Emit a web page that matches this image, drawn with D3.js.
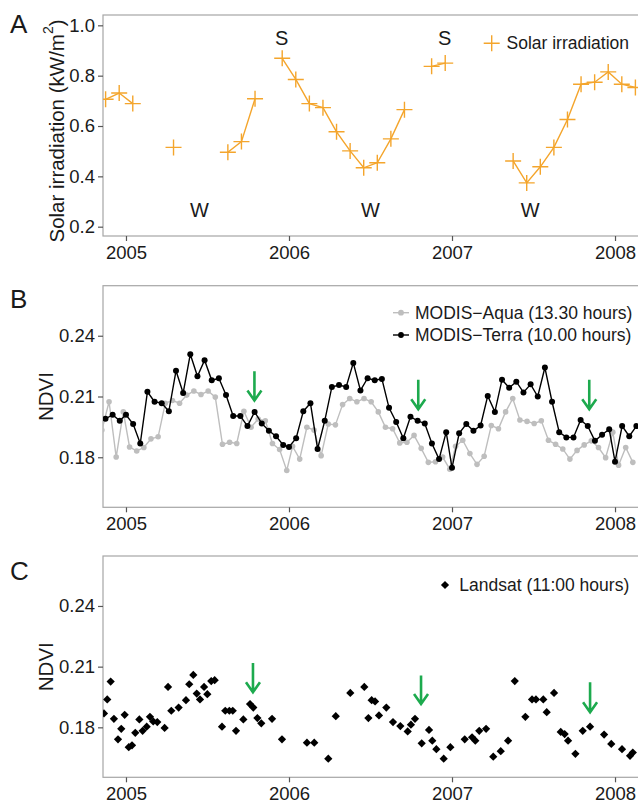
<!DOCTYPE html>
<html>
<head>
<meta charset="utf-8">
<script src="https://cdn.jsdelivr.net/npm/d3@7/dist/d3.min.js"></script>
<style>
  body { margin: 0; background: #fff; }
  svg { font-family: "Liberation Sans", Arial, sans-serif; }
</style>
</head>
<body>
<svg id="chart" width="638" height="803"></svg>
<script>
// ---------- data ----------
const years = [2005, 2006, 2007, 2008];

// monthly solar irradiation (kW/m2), Nov 2004 .. Feb 2008, null = missing month
const solarFirstMonth = [2004, 11];
const solarValues = [
  0.706, 0.731,
  0.689, null, null, 0.515, null, null, null, 0.496, 0.538, 0.708, null, 0.869,
  0.785, 0.689, 0.673, 0.577, 0.501, 0.434, 0.454, 0.549, 0.665, null, 0.837, 0.850,
  null, null, null, null, 0.461, 0.374, 0.438, 0.515, 0.626, 0.766, 0.774, 0.815,
  0.766, 0.753
];
const seasonMarks = [
  { label: 'W', t: 2005.45, v: 0.266 },
  { label: 'S', t: 2005.955, v: 0.948 },
  { label: 'W', t: 2006.50, v: 0.266 },
  { label: 'S', t: 2006.955, v: 0.948 },
  { label: 'W', t: 2007.48, v: 0.266 }
];

// MODIS 16-day composites: first composite [year, day of year]
const terraFirst = [2004, 321];
const aquaFirst = [2004, 313];
const terraNdvi = [
  0.1990, 0.2010, 0.1980,
  0.2010, 0.1964, 0.1868, 0.2123, 0.2074, 0.2067, 0.2027, 0.2227, 0.2117, 0.2309, 0.2200, 0.2279,
  0.2180, 0.2190, 0.2107, 0.2004, 0.2004, 0.1954, 0.2024, 0.1967, 0.1931, 0.1904, 0.1861,
  0.1851, 0.1894, 0.2027, 0.2067, 0.1841, 0.1980, 0.2147, 0.2157, 0.2147, 0.2266, 0.2130, 0.2190,
  0.2180, 0.2187, 0.2044, 0.1974, 0.1894, 0.2000, 0.1980, 0.1967, 0.1868, 0.1791, 0.1924,
  0.1748, 0.1918, 0.1964, 0.1931, 0.1957, 0.2103, 0.2024, 0.2183, 0.2143, 0.2173, 0.2120, 0.2160,
  0.2100, 0.2243, 0.2074, 0.1924, 0.1898, 0.1898, 0.1984, 0.1954, 0.1881, 0.1911, 0.1938,
  0.1778, 0.1954, 0.1904, 0.1954
];
const aquaNdvi = [
  0.1934, 0.2074, 0.1801, 0.2024,
  0.1851, 0.1831, 0.1848, 0.1891, 0.1901, 0.2067, 0.2080, 0.2067, 0.2107, 0.2127, 0.2110, 0.2127,
  0.2097, 0.1864, 0.1874, 0.1868, 0.2027, 0.1948, 0.1989, 0.1980, 0.1868, 0.1838, 0.1735,
  0.1854, 0.1791, 0.1948, 0.1934, 0.1808, 0.1964, 0.1960, 0.2060, 0.2090, 0.2074, 0.2090, 0.2074,
  0.2024, 0.1948, 0.1941, 0.1871, 0.1874, 0.1908, 0.1844, 0.1775, 0.1778, 0.1801, 0.1741,
  0.1854, 0.1884, 0.1818, 0.1765, 0.1805, 0.1957, 0.1941, 0.2024, 0.2090, 0.1984, 0.1977, 0.1967,
  0.1980, 0.1884, 0.1864, 0.1841, 0.1791, 0.1834, 0.1861, 0.1881, 0.1848, 0.1798, 0.1924,
  0.1761, 0.1848, 0.1775
];

// Landsat scenes (decimal year) and NDVI
const landsatTime = [
  2004.865, 2004.885, 2004.906, 2004.926, 2004.951, 2004.971, 2004.992, 2005.017, 2005.037, 2005.057,
  2005.082, 2005.102, 2005.127, 2005.147, 2005.167, 2005.192, 2005.237, 2005.258, 2005.278, 2005.323,
  2005.368, 2005.388, 2005.413, 2005.434, 2005.454, 2005.479, 2005.499, 2005.523, 2005.544, 2005.589,
  2005.609, 2005.634, 2005.655, 2005.675, 2005.720, 2005.761, 2005.781, 2005.806, 2005.830, 2005.896,
  2005.957, 2006.110, 2006.155, 2006.241, 2006.287, 2006.376, 2006.462, 2006.487, 2006.507, 2006.528,
  2006.552, 2006.597, 2006.638, 2006.683, 2006.728, 2006.748, 2006.773, 2006.814, 2006.859, 2006.879,
  2006.904, 2006.949, 2006.990, 2007.078, 2007.123, 2007.143, 2007.167, 2007.209, 2007.253, 2007.299,
  2007.344, 2007.385, 2007.450, 2007.491, 2007.515, 2007.560, 2007.581, 2007.626, 2007.667, 2007.691,
  2007.712, 2007.757, 2007.802, 2007.847, 2007.933, 2007.977, 2008.043, 2008.092, 2008.109
];
const landsatNdvi = [
  0.1869, 0.1938, 0.2026, 0.1842, 0.1741, 0.1793, 0.1862, 0.1702, 0.1711, 0.1773,
  0.1839, 0.1783, 0.1803, 0.1852, 0.1829, 0.1826, 0.1797, 0.2000, 0.1882, 0.1898,
  0.1934, 0.2013, 0.2059, 0.1967, 0.1938, 0.2000, 0.1964, 0.2029, 0.2033, 0.1803,
  0.1882, 0.1882, 0.1882, 0.1783, 0.1839, 0.1915, 0.1898, 0.1846, 0.1820, 0.1842,
  0.1741, 0.1724, 0.1724, 0.1645, 0.1855, 0.1970, 0.2000, 0.1846, 0.1934, 0.1928,
  0.1859, 0.1898, 0.1826, 0.1806, 0.1780, 0.1813, 0.1842, 0.1721, 0.1787, 0.1734,
  0.1692, 0.1645, 0.1702, 0.1741, 0.1751, 0.1734, 0.1783, 0.1793, 0.1655, 0.1682,
  0.1734, 0.2029, 0.1852, 0.1938, 0.1938, 0.1938, 0.1875, 0.1970, 0.1777, 0.1767,
  0.1734, 0.1669, 0.1783, 0.1803, 0.1764, 0.1718, 0.1692, 0.1659, 0.1675
];

// green arrows: time, top and tip value
const arrowsB = [
  { t: 2005.788, from: 0.2225, to: 0.2080 },
  { t: 2006.793, from: 0.2183, to: 0.2037 },
  { t: 2007.842, from: 0.2183, to: 0.2037 }
];
const arrowsC = [
  { t: 2005.779, from: 0.2118, to: 0.1974 },
  { t: 2006.810, from: 0.2056, to: 0.1915 },
  { t: 2007.847, from: 0.2023, to: 0.1875 }
];

// ---------- helpers ----------
const isLeap = (y) => (y % 4 === 0 && y % 100 !== 0) || y % 400 === 0;

// MODIS composite calendar: every 16 days, restarting each year
function compositeTimes(first, count) {
  const startDoy = ((first[1] - 1) % 16) + 1;
  let [year, doy] = first;
  const out = [];
  for (let i = 0; i < count; i++) {
    const days = isLeap(year) ? 366 : 365;
    out.push(year + (doy - 1) / days);
    doy += 16;
    if (doy > days) { year += 1; doy = startDoy; }
  }
  return out;
}

const solar = solarValues.map((v, i) => {
  const m = solarFirstMonth[1] - 1 + i;
  return { t: solarFirstMonth[0] + Math.floor(m / 12) + ((m % 12) + 0.5) / 12, v: v };
});
const terra = compositeTimes(terraFirst, terraNdvi.length).map((t, i) => ({ t: t, v: terraNdvi[i] }));
const aqua = compositeTimes(aquaFirst, aquaNdvi.length).map((t, i) => ({ t: t, v: aquaNdvi[i] }));
const landsat = landsatTime.map((t, i) => ({ t: t, v: landsatNdvi[i] }));

// ---------- layout ----------
const svg = d3.select('#chart');
const left = 103, right = 638;
const ORANGE = '#F4A52C', GREY = '#BEBEBE', GREEN = '#1DAA4E', FRAME = '#A6A6A6', INK = '#1a1a1a';

const x = d3.scaleLinear().domain([2004.859, 2008.141]).range([left, right]);

function panel(opt) {
  const y = d3.scaleLinear().domain(opt.domain).range([opt.bottom, opt.top]);
  const g = svg.append('g');
  const id = 'clip' + opt.letter;

  svg.append('clipPath').attr('id', id)
    .append('rect')
      .attr('x', left).attr('y', opt.top)
      .attr('width', right - left + 10).attr('height', opt.bottom - opt.top);

  g.append('rect')
    .attr('x', left).attr('y', opt.top)
    .attr('width', right - left + 10).attr('height', opt.bottom - opt.top)
    .attr('fill', 'none').attr('stroke', FRAME).attr('stroke-width', 1.2);

  const xa = g.append('g')
    .attr('transform', `translate(0, ${opt.bottom})`)
    .call(d3.axisBottom(x).tickValues(years).tickFormat(d3.format('d')).tickSize(5).tickPadding(5));
  const ya = g.append('g')
    .attr('transform', `translate(${left}, 0)`)
    .call(d3.axisLeft(y).tickValues(opt.ticks).tickFormat(d3.format(opt.fmt)).tickSize(5).tickPadding(3));
  [xa, ya].forEach((a) => {
    a.select('.domain').remove();
    a.selectAll('line').attr('stroke', '#555').attr('stroke-width', 1.2);
    a.selectAll('text').attr('fill', INK).style('font-size', '18.5px');
  });

  g.append('text')
    .attr('x', 10).attr('y', opt.letterY)
    .attr('fill', INK).style('font-size', '26px')
    .text(opt.letter);

  const plot = g.append('g').attr('clip-path', `url(#${id})`);
  return { y: y, g: g, plot: plot };
}

function arrows(p, list) {
  list.forEach((a) => {
    const ax = x(a.t), y0 = p.y(a.from), y1 = p.y(a.to);
    p.plot.append('path')
      .attr('d', `M${ax},${y0}V${y1 - 1}M${ax - 7},${y1 - 10}L${ax},${y1}L${ax + 7},${y1 - 10}`)
      .attr('fill', 'none').attr('stroke', GREEN).attr('stroke-width', 2.6)
      .attr('stroke-linecap', 'butt');
  });
}

// ---------- A: solar irradiation ----------
const A = panel({ letter: 'A', letterY: 33, top: 15, bottom: 236, domain: [0.163, 1.041],
  ticks: [0.2, 0.4, 0.6, 0.8, 1.0], fmt: '.1f' });

const lineA = d3.line().defined((d) => d.v !== null).x((d) => x(d.t)).y((d) => A.y(d.v));
A.plot.append('path')
  .datum(solar)
  .attr('d', lineA)
  .attr('fill', 'none').attr('stroke', ORANGE).attr('stroke-width', 1.4);

const plus = (cx, cy, r) => `M${cx - r},${cy}H${cx + r}M${cx},${cy - r}V${cy + r}`;
A.plot.selectAll('path.pt')
  .data(solar.filter((d) => d.v !== null))
  .enter().append('path')
    .attr('class', 'pt')
    .attr('d', (d) => plus(x(d.t), A.y(d.v), 8))
    .attr('stroke', ORANGE).attr('stroke-width', 1.4);

A.g.selectAll('text.season')
  .data(seasonMarks)
  .enter().append('text')
    .attr('class', 'season')
    .attr('x', (d) => x(d.t)).attr('y', (d) => A.y(d.v))
    .attr('text-anchor', 'middle').attr('dominant-baseline', 'central')
    .attr('fill', INK).style('font-size', '20px')
    .text((d) => d.label);

const titleA = A.g.append('text')
  .attr('transform', 'translate(56, 131) rotate(-90)')
  .attr('text-anchor', 'middle').attr('dominant-baseline', 'central')
  .attr('fill', INK).style('font-size', '20.5px');
titleA.append('tspan').text('Solar irradiation (kW/m');
titleA.append('tspan').attr('dy', -8).style('font-size', '14px').text('2');
titleA.append('tspan').attr('dy', 8).text(')');

A.g.append('path').attr('d', plus(491.7, 43.3, 8)).attr('stroke', ORANGE).attr('stroke-width', 1.4);
A.g.append('text').attr('x', 506.5).attr('y', 43.3)
  .attr('dominant-baseline', 'central').attr('fill', INK).style('font-size', '17.5px')
  .text('Solar irradiation');

// ---------- B: MODIS ----------
const ndviDomain = [0.1553, 0.2647];
const B = panel({ letter: 'B', letterY: 308, top: 285.7, bottom: 507.3, domain: ndviDomain,
  ticks: [0.18, 0.21, 0.24], fmt: '.2f' });

const lineB = d3.line().x((d) => x(d.t)).y((d) => B.y(d.v));
[[aqua, GREY, 2.8], [terra, '#000', 3.0]].forEach(([data, col, r]) => {
  B.plot.append('path').datum(data).attr('d', lineB)
    .attr('fill', 'none').attr('stroke', col).attr('stroke-width', 1.4);
  B.plot.append('g').selectAll('circle')
    .data(data)
    .enter().append('circle')
      .attr('cx', (d) => x(d.t)).attr('cy', (d) => B.y(d.v)).attr('r', r)
      .attr('fill', col);
});
arrows(B, arrowsB);

B.g.append('text')
  .attr('transform', 'translate(45, 396.5) rotate(-90)')
  .attr('text-anchor', 'middle').attr('dominant-baseline', 'central')
  .attr('fill', INK).style('font-size', '20.5px')
  .text('NDVI');

[['MODIS\u2212Aqua (13.30 hours)', GREY, 312.7], ['MODIS\u2212Terra (10.00 hours)', '#000', 335]].forEach(([txt, col, ly]) => {
  B.g.append('line').attr('x1', 393).attr('x2', 409).attr('y1', ly).attr('y2', ly)
    .attr('stroke', col).attr('stroke-width', 1.4);
  B.g.append('circle').attr('cx', 401).attr('cy', ly).attr('r', 2.9).attr('fill', col);
  B.g.append('text').attr('x', 415).attr('y', ly)
    .attr('dominant-baseline', 'central').attr('fill', INK).style('font-size', '17.5px')
    .text(txt);
});

// ---------- C: Landsat ----------
const C = panel({ letter: 'C', letterY: 580, top: 556, bottom: 777.3, domain: ndviDomain,
  ticks: [0.18, 0.21, 0.24], fmt: '.2f' });

const diamond = d3.symbol().type(d3.symbolSquare).size(34);
C.plot.selectAll('path.pt')
  .data(landsat)
  .enter().append('path')
    .attr('class', 'pt')
    .attr('d', diamond)
    .attr('transform', (d) => `translate(${x(d.t)}, ${C.y(d.v)}) rotate(45)`)
    .attr('fill', '#000');
arrows(C, arrowsC);

C.g.append('text')
  .attr('transform', 'translate(45, 666.7) rotate(-90)')
  .attr('text-anchor', 'middle').attr('dominant-baseline', 'central')
  .attr('fill', INK).style('font-size', '20.5px')
  .text('NDVI');

C.g.append('path').attr('d', diamond).attr('transform', 'translate(445, 585) rotate(45)').attr('fill', '#000');
C.g.append('text').attr('x', 459.3).attr('y', 585)
  .attr('dominant-baseline', 'central').attr('fill', INK).style('font-size', '17.5px')
  .text('Landsat (11:00 hours)');
</script>
</body>
</html>
